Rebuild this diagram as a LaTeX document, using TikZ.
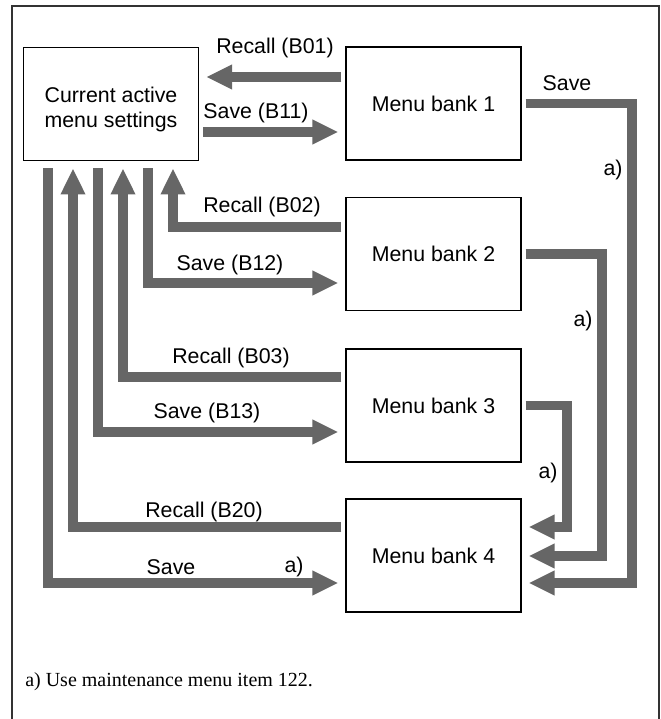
\documentclass[tikz,border=0pt]{standalone}
\usepackage{fontspec}
\setmainfont{Liberation Serif}
\setsansfont{Liberation Sans}
\usepackage{xcolor}
\usepackage{tikz}
\usetikzlibrary{arrows.meta}
\definecolor{flowgray}{RGB}{102,102,102}

\begin{document}
\begin{tikzpicture}[
  x=0.75pt, y=-0.75pt,
  box/.style={rectangle, draw, line width=1.1pt, minimum width=131pt, minimum height=85pt, align=center, inner sep=0pt, font=\sffamily\fontsize{16}{19}\selectfont},
  flow/.style={-{Triangle[length=19.5pt, width=17.25pt]}, line width=7pt, draw=flowgray, shorten <=3pt, shorten >=5.25pt},
  lbl/.style={font=\sffamily\fontsize{16}{19}\selectfont, inner sep=0pt}
]
\useasboundingbox (0,0) rectangle (661,719);

% Frame
\draw[line width=0.9pt, draw=black!80] (12,719) -- (12,6) -- (659,6) -- (659,719);

% Current settings and menu banks
\node[box] (current) at (111,104) {\rule{0pt}{20pt}Current active\\menu settings};
\node[box] (bank1) at (433.5,103.5) {Menu bank 1};
\node[box] (bank2) at (433.5,254) {Menu bank 2};
\node[box] (bank3) at (433.5,405.5) {Menu bank 3};
\node[box] (bank4) at (433.5,555.5) {Menu bank 4};

% Recall and save, bank 1
\draw[flow] (bank1.west |- 0,77) -- (current.east |- 0,77);
\draw[flow] (current.east |- 0,132) -- (bank1.west |- 0,132);
\node[lbl] (recall1) at (275,48) {Recall (B01)};
\node[lbl] (save1) at (256,113) {Save (B11)};

% Recall and save, bank 2
\draw[flow] (bank2.west |- 0,227) -| (173,0 |- current.south);
\draw[flow, shorten <=5.25pt] (148,0 |- current.south) |- (bank2.west |- 0,283);
\node[lbl] (recall2) at (262,207) {Recall (B02)};
\node[lbl] (save2) at (230,265) {Save (B12)};

% Recall and save, bank 3
\draw[flow] (bank3.west |- 0,377) -| (123,0 |- current.south);
\draw[flow, shorten <=5.25pt] (98,0 |- current.south) |- (bank3.west |- 0,432);
\node[lbl] (recall3) at (231,358) {Recall (B03)};
\node[lbl] (save3) at (207,413) {Save (B13)};

% Recall and save, bank 4
\draw[flow] (bank4.west |- 0,527) -| (73,0 |- current.south);
\draw[flow, shorten <=5.25pt] (48,0 |- current.south) |- (bank4.west |- 0,583);
\node[lbl] (recall4) at (204,512) {Recall (B20)};
\node[lbl] (save4) at (171,567) {Save};
\node[lbl] (note4) at (294,567) {a)};

% Save into bank 4
\draw[flow] (bank1.east) -| (632,583) -- (bank4.east |- 0,583);
\draw[flow] (bank2.east) -| (602,556) -- (bank4.east |- 0,556);
\draw[flow] (bank3.east) -| (567,527) -- (bank4.east |- 0,527);
\node[lbl] (save5) at (567,83) {Save};
\node[lbl] (note1) at (613,170) {a)};
\node[lbl] (note2) at (583,321) {a)};
\node[lbl] (note3) at (548,473) {a)};

% Footnote
\node[anchor=base west, inner sep=0pt, font=\fontsize{15}{18}\selectfont] (footnote) at (25,686) {a) Use maintenance menu item 122.};

\end{tikzpicture}
\end{document}
